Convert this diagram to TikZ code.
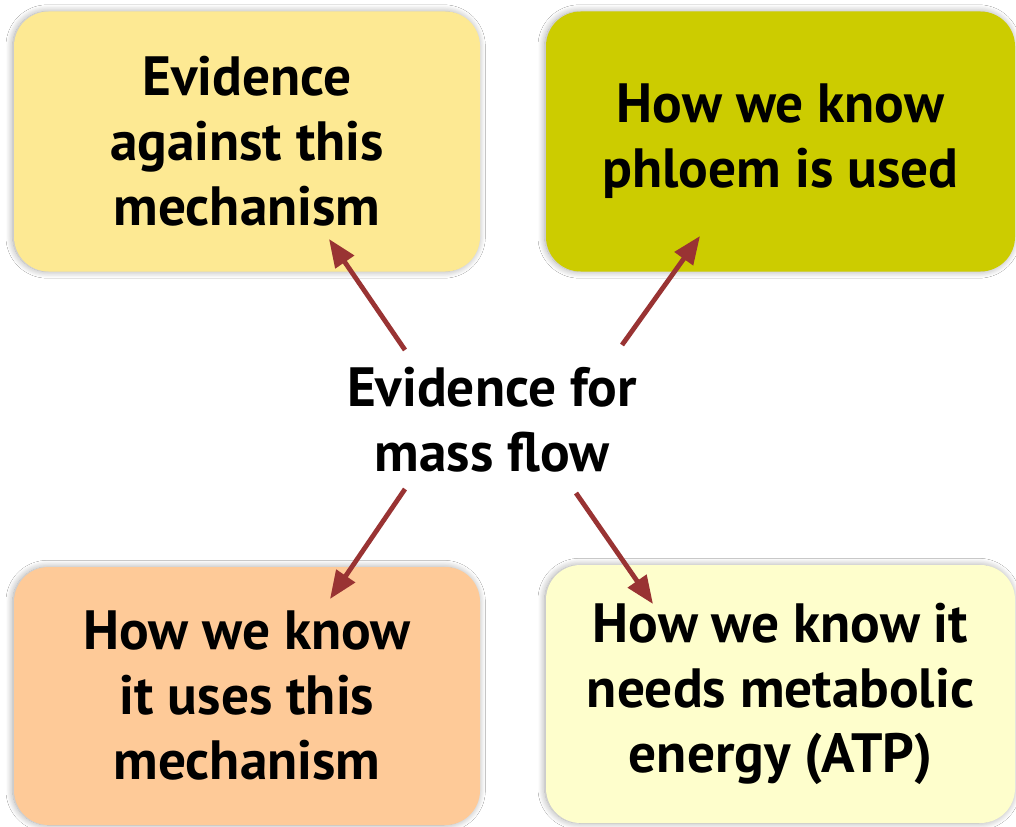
\documentclass[tikz,border=0pt]{standalone}
\usepackage{fontspec}
\setmainfont{PT Sans}
\usetikzlibrary{arrows.meta,shadows.blur}
\definecolor{boxA}{HTML}{FDE993}
\definecolor{boxB}{HTML}{CCCC00}
\definecolor{boxC}{HTML}{FECA98}
\definecolor{boxD}{HTML}{FEFECC}
\definecolor{arrowred}{HTML}{993333}
\tikzset{
  card/.style={rectangle, rounded corners=26pt, draw=none,
    minimum width=349.5pt, minimum height=195pt, align=center,
    font=\bfseries\fontsize{41.5}{48.75}\selectfont,
    blur shadow={shadow xshift=-1pt, shadow yshift=0pt, shadow blur radius=5pt, shadow opacity=35, shadow blur steps=12}},
  hub/.style={align=center, font=\bfseries\fontsize{41.5}{48.75}\selectfont},
  link/.style={draw=arrowred, line width=3.6pt, -{Triangle[length=21pt,width=16.5pt]}}
}
\begin{document}
\begin{tikzpicture}[x=0.75pt,y=-0.75pt]
\useasboundingbox[fill=white] (0,0) rectangle (1016,827);
\node[card, fill=boxA] (tl) at (247,141.5) {Evidence\\against this\\mechanism};
\node[card, fill=boxB, minimum width=351.75pt] (tr) at (780.5,141.5) {How we know\\phloem is used};
\node[card, fill=boxC, minimum height=193.5pt] (bl) at (247,696) {How we know\\it uses this\\mechanism};
\node[card, fill=boxD, minimum width=351.75pt, minimum height=193.5pt] (br) at (780.5,694) {How we know it\\needs metabolic\\energy (ATP)};
\node[hub] (hub) at (492,420) {Evidence for\\mass flow};
\coordinate (s1) at (405,350);
\coordinate (e1) at (329,239);
\coordinate (s2) at (622,345);
\coordinate (e2) at (700,236);
\coordinate (s3) at (405,489);
\coordinate (e3) at (330,599);
\coordinate (s4) at (576,493);
\coordinate (e4) at (653,604);
\draw[link] (s1) -- (e1);
\draw[link] (s2) -- (e2);
\draw[link] (s3) -- (e3);
\draw[link] (s4) -- (e4);
\end{tikzpicture}
\end{document}
